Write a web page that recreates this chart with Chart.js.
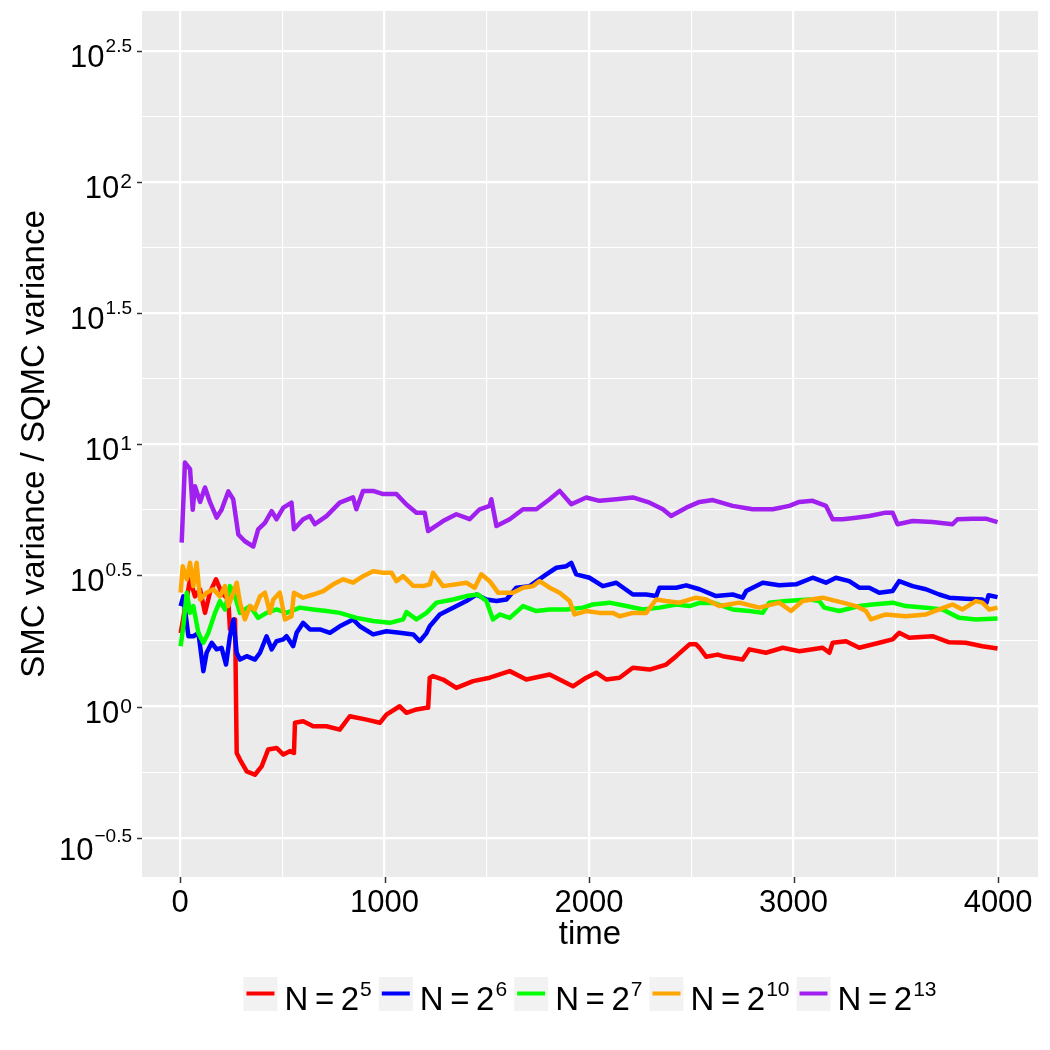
<!DOCTYPE html>
<html>
<head>
<meta charset="utf-8">
<script src="https://cdn.jsdelivr.net/npm/chart.js@4.4.0/dist/chart.umd.min.js"></script>
<style>
  html, body { margin: 0; padding: 0; background: #fff; }
  canvas { display: block; }
</style>
</head>
<body>
<canvas id="chart" width="1050" height="1050"></canvas>
<script>
// values are log10(SMC variance / SQMC variance)
const timeN5 = [3,49,73,98,122,146,176,203,236,244,269,277,293,326,366,399,431,472,505,537,557,562,602,651,716,781,830,912,977,1009,1074,1107,1156,1205,1213,1221,1237,1286,1351,1433,1514,1612,1693,1807,1921,1986,2035,2084,2149,2214,2296,2377,2426,2491,2523,2540,2572,2629,2654,2751,2784,2865,2947,3028,3142,3175,3191,3256,3321,3419,3484,3516,3565,3679,3761,3842,3923,3997];
const ratioN5 = [0.28,0.485,0.42,0.447,0.357,0.434,0.485,0.434,0.408,0.294,0.332,-0.177,-0.202,-0.247,-0.26,-0.228,-0.164,-0.158,-0.183,-0.17,-0.177,-0.062,-0.056,-0.075,-0.075,-0.088,-0.037,-0.05,-0.062,-0.031,0.001,-0.024,-0.011,-0.005,-0.005,0.11,0.116,0.103,0.071,0.097,0.11,0.135,0.103,0.122,0.077,0.11,0.129,0.103,0.11,0.148,0.141,0.16,0.192,0.237,0.237,0.224,0.19,0.198,0.192,0.179,0.218,0.205,0.224,0.211,0.224,0.205,0.243,0.249,0.224,0.243,0.256,0.281,0.262,0.268,0.245,0.243,0.23,0.221];

const timeN6 = [3,16,41,65,90,114,130,155,179,203,225,244,261,277,293,326,366,391,423,448,472,505,521,553,570,602,635,684,733,781,846,879,944,1009,1074,1140,1172,1205,1221,1270,1335,1400,1449,1498,1547,1596,1644,1709,1791,1840,1889,1913,1937,2002,2067,2133,2214,2279,2328,2344,2426,2475,2540,2621,2702,2751,2768,2849,2930,3012,3093,3158,3207,3272,3321,3370,3419,3484,3516,3582,3647,3712,3761,3842,3923,3943,3953,3997];
const ratioN6 = [0.383,0.42,0.268,0.268,0.28,0.135,0.205,0.243,0.218,0.224,0.16,0.268,0.332,0.205,0.179,0.192,0.179,0.205,0.268,0.218,0.249,0.256,0.268,0.23,0.281,0.319,0.294,0.294,0.281,0.306,0.332,0.306,0.275,0.287,0.281,0.275,0.249,0.28,0.306,0.351,0.377,0.402,0.427,0.408,0.402,0.408,0.453,0.459,0.504,0.529,0.535,0.548,0.504,0.491,0.459,0.472,0.427,0.427,0.421,0.453,0.453,0.462,0.447,0.421,0.427,0.415,0.44,0.472,0.462,0.466,0.491,0.472,0.491,0.478,0.453,0.453,0.434,0.44,0.478,0.459,0.447,0.427,0.415,0.411,0.408,0.396,0.424,0.417];

const timeN7 = [3,16,33,49,65,90,114,138,171,195,220,244,269,293,342,382,423,472,521,586,651,716,781,863,944,1026,1091,1107,1156,1205,1254,1335,1400,1457,1498,1530,1563,1612,1677,1742,1807,1889,1970,2018,2100,2182,2263,2344,2426,2491,2540,2605,2702,2784,2849,2881,2963,3077,3126,3150,3223,3321,3386,3484,3549,3647,3728,3810,3891,3997];
const ratioN7 = [0.23,0.306,0.434,0.357,0.383,0.28,0.243,0.28,0.357,0.402,0.37,0.459,0.42,0.357,0.383,0.338,0.357,0.37,0.357,0.377,0.37,0.364,0.357,0.338,0.326,0.319,0.332,0.36,0.332,0.357,0.396,0.408,0.421,0.427,0.402,0.332,0.351,0.338,0.383,0.364,0.37,0.37,0.377,0.389,0.396,0.383,0.37,0.377,0.389,0.383,0.395,0.396,0.37,0.364,0.357,0.396,0.402,0.408,0.402,0.377,0.364,0.383,0.389,0.396,0.383,0.377,0.37,0.338,0.332,0.336];

const timeN10 = [3,13,33,49,65,81,98,130,163,195,220,236,261,277,293,317,342,366,391,415,440,456,488,513,545,557,602,651,700,749,798,846,895,944,993,1034,1058,1091,1140,1189,1221,1237,1286,1351,1400,1441,1473,1514,1555,1628,1677,1726,1758,1807,1856,1905,1929,1986,2051,2116,2149,2214,2279,2328,2377,2442,2523,2572,2637,2735,2833,2930,2987,3044,3142,3240,3305,3354,3378,3451,3549,3647,3712,3777,3826,3891,3923,3956,3997];
const ratioN10 = [0.434,0.535,0.485,0.548,0.459,0.548,0.408,0.434,0.447,0.42,0.459,0.383,0.434,0.472,0.396,0.332,0.383,0.37,0.42,0.434,0.357,0.408,0.434,0.332,0.344,0.434,0.415,0.427,0.44,0.466,0.485,0.472,0.497,0.516,0.51,0.51,0.478,0.497,0.46,0.459,0.466,0.51,0.459,0.466,0.472,0.453,0.504,0.478,0.434,0.434,0.453,0.459,0.478,0.453,0.434,0.402,0.351,0.364,0.357,0.357,0.344,0.357,0.357,0.408,0.402,0.396,0.415,0.408,0.383,0.396,0.377,0.396,0.364,0.402,0.415,0.396,0.383,0.364,0.332,0.351,0.344,0.351,0.37,0.389,0.37,0.402,0.396,0.37,0.377];

const timeN13 = [8,24,49,62,73,98,122,146,179,203,236,260,285,317,358,382,415,448,472,505,545,557,602,635,659,716,781,846,862,895,944,993,1058,1107,1156,1196,1213,1286,1351,1416,1465,1514,1522,1547,1612,1677,1742,1807,1856,1913,1986,2051,2133,2214,2296,2361,2401,2475,2540,2605,2702,2800,2898,2979,3028,3093,3158,3191,3240,3305,3370,3451,3484,3508,3582,3679,3777,3801,3875,3940,3997];
const ratioN13 = [0.625,0.93,0.905,0.75,0.84,0.78,0.835,0.78,0.72,0.75,0.82,0.79,0.656,0.63,0.61,0.675,0.70,0.745,0.714,0.758,0.777,0.676,0.714,0.726,0.695,0.726,0.777,0.797,0.752,0.822,0.822,0.81,0.81,0.77,0.739,0.739,0.669,0.707,0.733,0.714,0.752,0.765,0.79,0.688,0.714,0.752,0.752,0.79,0.822,0.771,0.797,0.784,0.79,0.797,0.777,0.752,0.726,0.758,0.78,0.787,0.765,0.752,0.752,0.765,0.78,0.784,0.765,0.714,0.714,0.72,0.726,0.739,0.739,0.695,0.707,0.703,0.695,0.714,0.716,0.716,0.703];

const seriesExps = ["5", "6", "7", "10", "13"];
const seriesColors = ["#FF0000", "#0000FF", "#00FF00", "#FFA500", "#A020F0"];
const seriesTimes = [timeN5, timeN6, timeN7, timeN10, timeN13];
const seriesRatios = [ratioN5, ratioN6, ratioN7, ratioN10, ratioN13];

// tick labels
const yTickVals = [-0.5, 0, 0.5, 1, 1.5, 2, 2.5];
const yTickExps = ["\u22120.5", "0", "0.5", "1", "1.5", "2", "2.5"];
const xTickVals = [0, 1000, 2000, 3000, 4000];
const xTickLabels = ["0", "1000", "2000", "3000", "4000"];

const FONT = '"Liberation Sans", Arial, Helvetica, sans-serif';
const LEGEND_BASE = "N\u2009=\u20092";

const datasets = seriesTimes.map((times, i) => ({
  label: "N = 2^" + seriesExps[i],
  data: times.map((t, j) => ({ x: t, y: seriesRatios[i][j] })),
  borderColor: seriesColors[i],
  backgroundColor: seriesColors[i],
  borderWidth: 4.5,
  pointRadius: 0,
  tension: 0,
  fill: false,
  borderJoinStyle: "round",
  order: seriesTimes.length - 1 - i   // later series drawn on top
}));

// draws "base" with a superscript; align = "right" | "left"
function drawPow(ctx, base, exp, x, baseline, baseSize, expSize, raise, align) {
  ctx.font = baseSize + "px " + FONT;
  const wb = ctx.measureText(base).width;
  ctx.font = expSize + "px " + FONT;
  const we = ctx.measureText(exp).width;
  let left = align === "right" ? x - wb - we : x;
  ctx.textAlign = "left";
  ctx.textBaseline = "alphabetic";
  ctx.font = baseSize + "px " + FONT;
  ctx.fillText(base, left, baseline);
  ctx.font = expSize + "px " + FONT;
  ctx.fillText(exp, left + wb + 1, baseline - raise);
  return wb + we + 1;
}

function powWidth(ctx, base, exp, baseSize, expSize) {
  ctx.font = baseSize + "px " + FONT;
  const wb = ctx.measureText(base).width;
  ctx.font = expSize + "px " + FONT;
  return wb + ctx.measureText(exp).width + 1;
}

const ggplotLook = {
  id: "ggplotLook",
  beforeDraw(chart) {
    const { ctx, chartArea: a } = chart;
    ctx.save();
    ctx.fillStyle = "#fff";
    ctx.fillRect(0, 0, chart.width, chart.height);
    ctx.fillStyle = "#EBEBEB";
    ctx.fillRect(a.left, a.top, a.right - a.left, a.bottom - a.top);
    ctx.restore();
  },
  afterDraw(chart) {
    const { ctx, chartArea: a } = chart;
    const xs = chart.scales.x, ys = chart.scales.y;
    ctx.save();
    // tick marks
    ctx.strokeStyle = "#333";
    ctx.lineWidth = 1.5;
    xTickVals.forEach(v => {
      const px = Math.round(xs.getPixelForValue(v)) + 0.5;
      ctx.beginPath(); ctx.moveTo(px, a.bottom); ctx.lineTo(px, a.bottom + 6); ctx.stroke();
    });
    yTickVals.forEach(v => {
      const py = Math.round(ys.getPixelForValue(v)) + 0.5;
      ctx.beginPath(); ctx.moveTo(a.left - 5, py); ctx.lineTo(a.left, py); ctx.stroke();
    });

    ctx.fillStyle = "#000";
    // x tick labels
    ctx.font = "31px " + FONT;
    ctx.textAlign = "center";
    ctx.textBaseline = "alphabetic";
    xTickVals.forEach((v, i) => {
      ctx.fillText(xTickLabels[i], xs.getPixelForValue(v), 912);
    });

    // y tick labels 10^k
    yTickVals.forEach((v, i) => {
      const py = ys.getPixelForValue(v);
      const e = yTickExps[i];
      let baseline = py + 16, raise = 10, es = 21;
      if (e.indexOf(".") >= 0) { raise = 15; es = 19; }
      if (e.charAt(0) === "\u2212") { baseline = py + 22; raise = 18; }
      drawPow(ctx, "10", e, 131, baseline, 31, es, raise, "right");
    });

    // axis titles
    ctx.font = "33px " + FONT;
    ctx.textAlign = "center";
    ctx.fillText("time", (a.left + a.right) / 2, 944);
    ctx.save();
    ctx.translate(44, (a.top + a.bottom) / 2);
    ctx.rotate(-Math.PI / 2);
    ctx.fillText("SMC variance / SQMC variance", 0, 0);
    ctx.restore();

    // legend at the bottom
    const keyW = 34, gap = 7;
    const widths = seriesExps.map(e => powWidth(ctx, LEGEND_BASE, e, 33, 21));
    const total = widths.reduce((s, w) => s + keyW + gap + w + gap, 0) - gap;
    let x = (a.left + a.right) / 2 - total / 2;
    const keyTop = 977, keyMid = 993.5;
    seriesExps.forEach((e, i) => {
      ctx.fillStyle = "#F2F2F2";
      ctx.fillRect(x, keyTop, keyW, keyW);
      ctx.strokeStyle = seriesColors[i];
      ctx.lineWidth = 4;
      ctx.beginPath(); ctx.moveTo(x + 3, keyMid); ctx.lineTo(x + keyW - 3, keyMid); ctx.stroke();
      ctx.fillStyle = "#000";
      drawPow(ctx, LEGEND_BASE, e, x + keyW + gap, 1010, 33, 21, 14, "left");
      x += keyW + gap + widths[i] + gap;
    });
    ctx.restore();
  }
};

function gridWidth(major) {
  return (c) => (c.tick && major(c.tick.value) ? 2.2 : 1.1);
}

new Chart(document.getElementById("chart"), {
  type: "line",
  data: { datasets },
  options: {
    responsive: false,
    animation: false,
    devicePixelRatio: 1,
    layout: { padding: { left: 0, top: 11, right: 12, bottom: 0 } },
    plugins: { legend: { display: false }, tooltip: { enabled: false } },
    scales: {
      x: {
        type: "linear",
        min: -186,
        max: 4195,
        afterBuildTicks: (s) => { s.ticks = [0, 500, 1000, 1500, 2000, 2500, 3000, 3500, 4000].map(v => ({ value: v })); },
        afterFit: (s) => { s.height = 173; },
        ticks: { display: false },
        border: { display: false },
        grid: { color: "#FFFFFF", drawTicks: false, lineWidth: gridWidth(v => v % 1000 === 0) }
      },
      y: {
        type: "linear",
        min: -0.6498,
        max: 2.6513,
        afterBuildTicks: (s) => {
          const t = [];
          for (let v = -0.5; v <= 2.5001; v += 0.25) t.push({ value: Math.round(v * 100) / 100 });
          s.ticks = t;
        },
        afterFit: (s) => { s.width = 142; },
        ticks: { display: false },
        border: { display: false },
        grid: { color: "#FFFFFF", drawTicks: false, lineWidth: gridWidth(v => Math.abs(v * 2 - Math.round(v * 2)) < 1e-6) }
      }
    }
  },
  plugins: [ggplotLook]
});
</script>
</body>
</html>
